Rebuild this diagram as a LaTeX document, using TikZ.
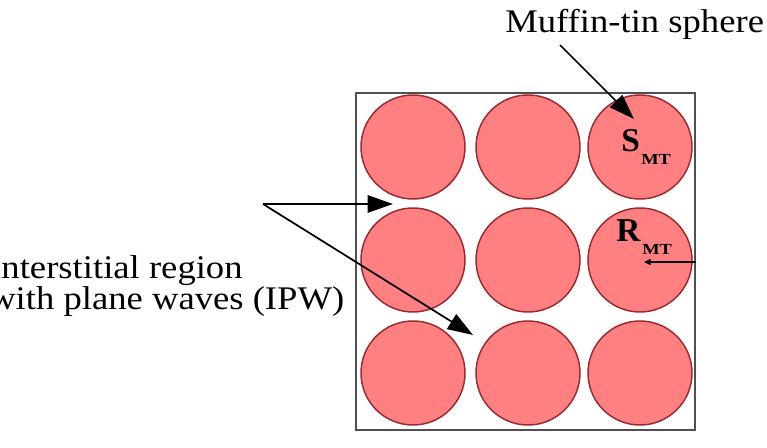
\documentclass[tikz,border=0pt]{standalone}
\usepackage{fontspec}
\setmainfont{Liberation Serif}
\usetikzlibrary{arrows.meta}
\definecolor{mtfill}{HTML}{FF8080}
\definecolor{mtdraw}{HTML}{9A2A2F}
\definecolor{boxgray}{HTML}{505050}
\tikzset{
  sphere/.style={circle, draw=mtdraw, fill=mtfill, line width=1.1pt, minimum size=78pt, inner sep=0pt},
  bigtext/.style={font=\fontsize{24.75}{26}\selectfont, xscale=1.11, inner sep=0pt},
  pointer/.style={line width=1.3pt, -{Triangle[length=19pt, width=13pt]}},
  radius arrow/.style={line width=1.4pt, -{Triangle[length=5pt, width=4.5pt]}},
  biglabel/.style={font=\fontsize{25}{26}\selectfont\bfseries, inner sep=0pt},
  sublabel/.style={font=\fontsize{11.5}{12}\selectfont\bfseries, xscale=1.2, inner sep=0pt}
}
\begin{document}
\begin{tikzpicture}[x=0.75pt, y=-0.75pt]
\useasboundingbox (0,0) rectangle (767,448);
\clip (0,0) rectangle (767,448);
% unit cell
\draw[boxgray, line width=1.8pt] (356,93) rectangle (695,430);
% spheres
\foreach \r/\yy in {1/147,2/260,3/373}{
  \foreach \c/\xx in {1/413,2/528,3/640}{
    \node[sphere] (c\r\c) at (\xx,\yy) {};
  }
}
% labels
\node[bigtext, anchor=base west] (mt) at (505,33) {Muffin-tin sphere};
\node[bigtext, anchor=base west] (ir1) at (-11,279) {Interstitial region};
\node[bigtext, anchor=base west] (ir2) at (-11,310) {with plane waves (IPW)};
\node[biglabel, anchor=base west] (S) at (621,152) {S};
\node[sublabel, anchor=base west] (Ssub) at (641,165) {MT};
\node[biglabel, anchor=base west] (R) at (616,242) {R};
\node[sublabel, anchor=base west] (Rsub) at (642,255) {MT};
% arrows
\coordinate (mtstart) at (560,45);
\coordinate (mttip) at (634,119);
\coordinate (ipw) at (263,204);
\coordinate (tipA) at (393,204);
\coordinate (tipB) at (473,335);
\coordinate (redge) at (696,262);
\coordinate (rcenter) at (644,262);
\draw[pointer] (mtstart) -- (mttip);
\draw[pointer] (ipw) -- (tipA);
\draw[pointer] (ipw) -- (tipB);
\draw[radius arrow] (redge) -- (rcenter);
\end{tikzpicture}
\end{document}
